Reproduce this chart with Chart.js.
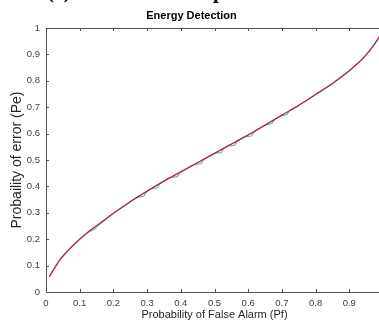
<!DOCTYPE html>
<html>
<head>
<meta charset="utf-8">
<script src="https://cdn.jsdelivr.net/npm/chart.js@4.4.1/dist/chart.umd.min.js"></script>
<style>
    html, body { margin: 0; padding: 0; background: #fff; }
    #wrap { position: relative; width: 379px; height: 327px; overflow: hidden; background: #fff; }
    #chart { position: absolute; left: 0; top: 0; }
    .cap { position: absolute; top: -20px; font: bold 20px "Liberation Serif", "Times New Roman", serif; color: #000; }
</style>
</head>
<body>
<div id="wrap">
    <span class="cap" style="left:47px">(a)</span>
    <span class="cap" style="left:213px">p</span>
    <canvas id="chart" width="395" height="327"></canvas>
</div>
<script>
    // red curve (theory)
    let pfRed = [0.01, 0.02, 0.03, 0.04, 0.06, 0.08, 0.1, 0.12, 0.14, 0.17, 0.2, 0.25, 0.3, 0.35, 0.4, 0.45, 0.5,
                 0.55, 0.6, 0.65, 0.7, 0.75, 0.8, 0.85, 0.9, 0.93, 0.95, 0.97, 0.99, 1.0];
    let peRed = [0.058, 0.08, 0.1, 0.12, 0.15, 0.176, 0.2, 0.222, 0.242, 0.27, 0.298, 0.342, 0.382, 0.42, 0.455, 0.49, 0.525,
                 0.56, 0.595, 0.632, 0.67, 0.707, 0.748, 0.79, 0.838, 0.872, 0.898, 0.93, 0.968, 0.99];

    // blue curve (simulation, small steps below the red one)
    let pfBlue = [0.01, 0.02, 0.03, 0.04, 0.06, 0.08, 0.1, 0.125, 0.145, 0.153, 0.2, 0.25, 0.27, 0.29, 0.298,
                  0.31, 0.33, 0.338, 0.37, 0.39, 0.398, 0.44, 0.46, 0.468, 0.5, 0.52, 0.528, 0.54, 0.56, 0.568,
                  0.59, 0.61, 0.618, 0.65, 0.67, 0.678, 0.695, 0.715, 0.723, 0.75, 0.8, 0.85, 0.9, 0.93, 0.95,
                  0.97, 0.99, 1.0];
    let peBlue = [0.058, 0.08, 0.1, 0.12, 0.15, 0.176, 0.2, 0.227, 0.238, 0.25, 0.298, 0.342, 0.358, 0.363, 0.38,
                  0.39, 0.394, 0.411, 0.434, 0.437, 0.454, 0.483, 0.486, 0.503, 0.525, 0.528, 0.545, 0.553, 0.556, 0.573,
                  0.588, 0.591, 0.608, 0.632, 0.638, 0.653, 0.666, 0.672, 0.687, 0.707, 0.748, 0.79, 0.838, 0.872, 0.898,
                  0.93, 0.968, 0.99];

    let xTitle = 'Probability of False Alarm (Pf)';
    let yTitle = 'Probaility of error (Pe)';
    let chartTitle = 'Energy Detection';

    const axisColor = '#555555';
    const fontFam = '"Liberation Sans", Arial, Helvetica, sans-serif';

    // MATLAB-like box: top border and inward ticks
    const innerTicks = {
        id: 'innerTicks',
        afterDraw(chart) {
            const ctx = chart.ctx;
            const a = chart.chartArea;
            const x = chart.scales.x, y = chart.scales.y;
            ctx.save();
            ctx.strokeStyle = axisColor;
            ctx.lineWidth = 1;
            ctx.beginPath();
            ctx.moveTo(a.left, Math.round(a.top) + 0.5); ctx.lineTo(a.right, Math.round(a.top) + 0.5);
            ctx.moveTo(a.left, Math.round(a.bottom) + 0.5); ctx.lineTo(a.right, Math.round(a.bottom) + 0.5);
            ctx.moveTo(Math.round(a.left) + 0.5, a.top); ctx.lineTo(Math.round(a.left) + 0.5, a.bottom);
            ctx.moveTo(Math.round(a.right) + 0.5, a.top); ctx.lineTo(Math.round(a.right) + 0.5, a.bottom);
            x.ticks.forEach(t => {
                let px = Math.round(x.getPixelForValue(t.value)) + 0.5;
                ctx.moveTo(px, a.bottom); ctx.lineTo(px, a.bottom - 3);
                ctx.moveTo(px, a.top); ctx.lineTo(px, a.top + 3);
            });
            y.ticks.forEach(t => {
                let py = Math.round(y.getPixelForValue(t.value)) + 0.5;
                ctx.moveTo(a.left, py); ctx.lineTo(a.left + 3, py);
                ctx.moveTo(a.right, py); ctx.lineTo(a.right - 3, py);
            });
            ctx.stroke();
            ctx.restore();
        }
    };

    // 0, 0.1, ... 1 like MATLAB
    const tickFmt = v => String(Number(v.toFixed(1)));

    let ctx = document.getElementById('chart').getContext('2d');
    let edChart = new Chart(ctx, {
        type: 'line',
        data: {
            datasets: [{
                label: 'Theory',
                data: pfRed.map((v, i) => ({ x: v, y: peRed[i] })),
                borderColor: '#b8283f',
                borderWidth: 1.3,
                pointRadius: 0,
                cubicInterpolationMode: 'monotone'
            }, {
                label: 'Simulation',
                data: pfBlue.map((v, i) => ({ x: v, y: peBlue[i] })),
                borderColor: '#4db0d8',
                borderWidth: 1.1,
                pointRadius: 0,
                tension: 0
            }]
        },
        options: {
            responsive: false,
            animation: false,
            layout: { padding: { left: 0, right: 12, top: 0, bottom: 0 } },
            plugins: {
                legend: { display: false },
                tooltip: { enabled: false },
                title: {
                    display: true,
                    text: chartTitle,
                    color: '#000',
                    font: { family: fontFam, size: 11, weight: 'bold', lineHeight: 1.2 },
                    padding: { top: 9.5, bottom: 5.3 }
                }
            },
            scales: {
                x: {
                    type: 'linear',
                    min: 0,
                    max: 1,
                    grid: { display: false, drawTicks: false },
                    border: { display: false },
                    ticks: { stepSize: 0.1, padding: 6, color: '#404040', font: { family: fontFam, size: 9.5 }, maxRotation: 0, callback: tickFmt },
                    title: {
                        display: true,
                        text: xTitle,
                        color: '#262626',
                        font: { family: fontFam, size: 11, lineHeight: 1.2 },
                        padding: { top: 0, bottom: 5.4 }
                    },
                    afterFit: s => { s.height = 35; }
                },
                y: {
                    min: 0,
                    max: 1,
                    grid: { display: false, drawTicks: false },
                    border: { display: false },
                    ticks: { stepSize: 0.1, padding: 6, color: '#404040', font: { family: fontFam, size: 9.5 }, callback: tickFmt },
                    title: {
                        display: true,
                        text: yTitle,
                        color: '#262626',
                        font: { family: fontFam, size: 14, lineHeight: 1.2 },
                        padding: { top: 8.6, bottom: 0 }
                    },
                    afterFit: s => { s.width = 46; }
                }
            }
        },
        plugins: [innerTicks]
    });
</script>
</body>
</html>
